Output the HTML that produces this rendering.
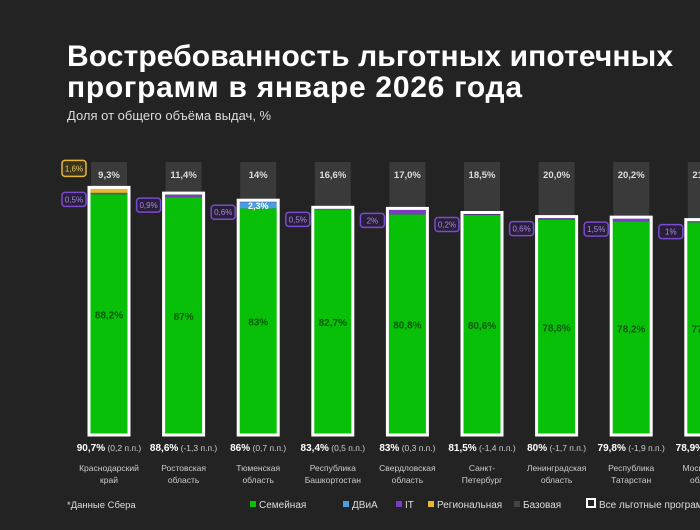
<!DOCTYPE html>
<html><head><meta charset="utf-8"><style>
body{margin:0;background:#232323;}
svg{display:block;font-family:"Liberation Sans",sans-serif;}
</style></head><body>
<svg id="chart" width="700" height="530" viewBox="0 0 700 530">
<rect width="700" height="530" fill="#232323"/>
<text x="67" y="66" font-size="30" font-weight="bold" fill="#fff" textLength="606">Востребованность льготных ипотечных</text>
<text x="67" y="97" font-size="30" font-weight="bold" fill="#fff" textLength="455">программ в январе 2026 года</text>
<text x="67" y="120" font-size="13" fill="#ddd">Доля от общего объёма выдач, %</text>
<g id="bars"></g>
<text x="67" y="508" font-size="9.5" fill="#ddd">*Данные Сбера</text>
<g id="legend"></g>
</svg>
<script>
const regions=[["Краснодарский","край"],["Ростовская","область"],["Тюменская","область"],["Республика","Башкортостан"],["Свердловская","область"],["Санкт-","Петербург"],["Ленинградская","область"],["Республика","Татарстан"],["Московская","область"]];
const totals=[90.7,88.6,86,83.4,83,81.5,80,79.8,78.9];
const changes=["0,2 п.п.","-1,3 п.п.","0,7 п.п.","0,5 п.п.","0,3 п.п.","-1,4 п.п.","-1,7 п.п.","-1,9 п.п.","-1 п.п."];
const family=[88.2,87,83,82.7,80.8,80.6,78.8,78.2,77.9];
const dvia=[0,0,2.3,0,0,0,0,0,0];
const it=[0.5,0.9,0.6,0.5,2,0.2,0.6,1.5,1];
const regional=[1.6,0,0,0,0,0,0,0,0];
const base=[9.3,11.4,14,16.6,17.0,18.5,20.0,20.2,21.1];
const totalLabels=["90,7%","88,6%","86%","83,4%","83%","81,5%","80%","79,8%","78,9%"];
const familyLabels=["88,2%","87%","83%","82,7%","80,8%","80,6%","78,8%","78,2%","77,9%"];
const itLabels=["0,5%","0,9%","0,6%","0,5%","2%","0,2%","0,6%","1,5%","1%"];
const baseLabels=["9,3%","11,4%","14%","16,6%","17,0%","18,5%","20,0%","20,2%","21,1%"];

const NS="http://www.w3.org/2000/svg";
const Y0=435,K=2.73,X0=109,STEP=74.6,BW=40;
const y=v=>Y0-v*K; const x=i=>X0+i*STEP;
function el(t,a,p){const e=document.createElementNS(NS,t);for(const k in a)e.setAttribute(k,a[k]);p.appendChild(e);return e;}
const g=document.getElementById('bars');
totals.forEach((tot,i)=>{
 const cx=x(i), l=cx-BW/2;
 const gb=el('rect',{x:cx-18,y:y(100),width:36,height:y(tot)-y(100),fill:'#3a3a3a'},g);
 
 
 const bt=el('text',{x:cx,y:y(100)+16,'font-size':9.5,'font-weight':'bold',fill:'#ddd','text-anchor':'middle'},g);bt.textContent=baseLabels[i];
 
 
 let acc=0;
 const segs=[[family[i],'#08c008','bar-family'],[dvia[i],'#4a9ee0','bar-dvia'],[it[i],'#7a3cc0','bar-it'],[regional[i],'#e8b830','bar-regional']];
 segs.forEach(s=>{ if(s[0]<=0)return; const r=el('rect',{x:l,y:y(acc+s[0]),width:BW,height:s[0]*K,fill:s[1]},g);   acc+=s[0];});
 const o=el('rect',{x:l,y:y(tot),width:BW,height:Y0-y(tot),fill:'none',stroke:'#fff','stroke-width':3},g);
 
 
 const fl=el('text',{x:cx,y:y(family[i]/2)+4,'font-size':10,'font-weight':'bold',fill:'#0a5a0a','text-anchor':'middle'},g);fl.textContent=familyLabels[i];
 
 
 if(dvia[i]>0){const d=el('text',{x:cx,y:y(family[i]+dvia[i])+7,'font-size':9,'font-weight':'bold',fill:'#fff','text-anchor':'middle'},g);d.textContent='2,3%';
  
  }
 const cy=y(tot)+12;
 const cb=el('rect',{x:l-27,y:cy-7,width:24,height:14,rx:3,fill:'#2a1f3a',stroke:'#7a4ad0','stroke-width':1.5},g);
 
 
 const ct=el('text',{x:l-15,y:cy+3,'font-size':8,fill:'#a98ae0','text-anchor':'middle'},g);ct.textContent=itLabels[i];
 
 
 if(regional[i]>0){
  const rb=el('rect',{x:l-27,y:y(tot)-27,width:24,height:16,rx:3,fill:'#3a3320',stroke:'#e8b830','stroke-width':1.5},g);
  
  
  const rt=el('text',{x:l-15,y:y(tot)-16,'font-size':8,fill:'#e8c860','text-anchor':'middle'},g);rt.textContent='1,6%';
  
  
 }
 const vt=el('text',{x:cx,y:451,'font-size':10,fill:'#fff','text-anchor':'middle'},g);
 
 
 const b=el('tspan',{'font-weight':'bold'},vt);b.textContent=totalLabels[i];
 const c=el('tspan',{'font-size':8.5,fill:'#ccc'},vt);c.textContent=' ('+changes[i]+')';
 regions[i].forEach((line,j)=>{const t=el('text',{x:cx,y:471+j*12,'font-size':8.5,fill:'#ccc','text-anchor':'middle'},g);t.textContent=line;
  
  });
});
const lg=document.getElementById('legend');
const items=[[250,'#08c008','Семейная'],[343,'#4a9ee0','ДВиА'],[396,'#7a3cc0','IT'],[428,'#e8b830','Региональная'],[514,'#444','Базовая']];
items.forEach(it2=>{const r=el('rect',{x:it2[0],y:501,width:6,height:6,fill:it2[1]},lg);
 
 
 const t=el('text',{x:it2[0]+9,y:508,'font-size':10,fill:'#ddd'},lg);t.textContent=it2[2];
 
 });
const wr=el('rect',{x:587,y:499,width:8,height:8,fill:'none',stroke:'#fff','stroke-width':2},lg);


const wt=el('text',{x:599,y:508,'font-size':10,fill:'#ddd'},lg);wt.textContent='Все льготные программы';


</script>
</body></html>
